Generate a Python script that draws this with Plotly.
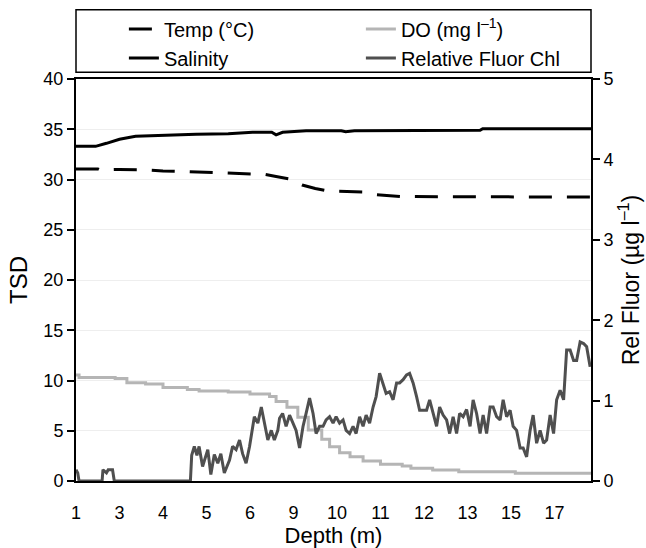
import plotly.graph_objects as go

# x positions are sample index units; ticks label depths
tick_pos = list(range(12))
tick_labels = ["1", "3", "4", "5", "6", "9", "10", "11", "12", "13", "15", "17"]

sal_x = [0, 0.45, 0.7, 1.0, 1.37, 2.0, 2.76, 3.5, 4.06, 4.5, 4.6, 4.75, 5.29, 6.1, 6.2, 6.4, 9.29, 9.35, 11.84]
sal_y = [33.3, 33.3, 33.6, 34.0, 34.3, 34.4, 34.5, 34.55, 34.7, 34.7, 34.45, 34.7, 34.85, 34.85, 34.75, 34.85, 34.9, 35.05, 35.05]

temp_x = [0, 0.5, 0.55, 1.0, 1.6, 2.0, 2.5, 3.0, 3.5, 4.0, 4.35, 4.6, 4.9, 5.2, 5.5, 5.8, 6.1, 6.6, 6.9, 7.5, 11.84]
temp_y = [31.05, 31.05, 30.95, 31.0, 30.95, 30.85, 30.8, 30.7, 30.6, 30.55, 30.5, 30.3, 30.05, 29.45, 29.1, 28.85, 28.8, 28.75, 28.5, 28.3, 28.25]

do_x = [0, 0.07, 0.9, 1.17, 1.6, 2.0, 2.56, 2.83, 3.5, 4.0, 4.45, 4.6, 4.85, 5.1, 5.34, 5.65, 5.83, 6.06, 6.3, 6.6, 7.0, 7.5, 7.7, 8.2, 8.8, 10.1, 11.84]
do_y = [10.55, 10.3, 10.2, 9.78, 9.65, 9.3, 9.1, 8.95, 8.85, 8.66, 8.4, 7.9, 7.33, 6.34, 5.07, 4.15, 3.4, 2.8, 2.42, 2.0, 1.66, 1.5, 1.26, 1.1, 0.93, 0.77, 0.77]

fl_x = [0.00, 0.04, 0.07, 0.60, 0.62, 0.70, 0.74, 0.84, 0.88, 2.63, 2.66, 2.72, 2.78, 2.83,
        2.91, 3.03, 3.10, 3.18, 3.26, 3.33, 3.41, 3.53, 3.60, 3.68, 3.76, 3.83, 3.91, 3.99,
        4.10, 4.18, 4.26, 4.33, 4.41, 4.49, 4.56, 4.64, 4.68, 4.75, 4.83, 4.91, 4.98, 5.06,
        5.14, 5.22, 5.29, 5.37, 5.45, 5.52, 5.60, 5.68, 5.75, 5.83, 5.91, 5.98, 6.06, 6.14,
        6.21, 6.29, 6.37, 6.44, 6.52, 6.60, 6.67, 6.75, 6.83, 6.90, 6.98, 7.06, 7.13, 7.21,
        7.29, 7.37, 7.44, 7.52, 7.60, 7.67, 7.75, 7.83, 7.90, 7.98, 8.06, 8.13, 8.21, 8.29,
        8.36, 8.44, 8.52, 8.59, 8.67, 8.75, 8.82, 8.90, 8.98, 9.06, 9.13, 9.21, 9.29, 9.36,
        9.44, 9.52, 9.59, 9.67, 9.75, 9.82, 9.90, 9.98, 10.05, 10.13, 10.21, 10.28, 10.36,
        10.44, 10.51, 10.59, 10.67, 10.75, 10.82, 10.90, 10.98, 11.05, 11.13, 11.21, 11.28,
        11.36, 11.44, 11.51, 11.59, 11.67, 11.74, 11.82]
fl_y = [0.14, 0.10, 0.00, 0.00, 0.14, 0.10, 0.14, 0.14, 0.00, 0.00, 0.32, 0.43, 0.32, 0.43,
        0.18, 0.39, 0.08, 0.33, 0.22, 0.34, 0.10, 0.26, 0.43, 0.39, 0.51, 0.34, 0.22, 0.43,
        0.80, 0.72, 0.92, 0.72, 0.51, 0.63, 0.51, 0.63, 0.78, 0.84, 0.68, 0.82, 0.72, 0.63,
        0.41, 0.68, 0.84, 1.03, 0.84, 0.59, 0.68, 0.68, 0.76, 0.80, 0.72, 0.80, 0.72, 0.76,
        0.63, 0.59, 0.68, 0.59, 0.80, 0.68, 0.82, 0.72, 0.92, 1.05, 1.34, 1.22, 1.09, 1.11,
        1.01, 1.22, 1.22, 1.26, 1.32, 1.34, 1.22, 1.05, 0.88, 0.88, 0.88, 1.01, 0.84, 0.68,
        0.92, 0.82, 0.76, 0.59, 0.80, 0.59, 0.84, 0.80, 0.89, 0.68, 1.01, 0.84, 0.59, 0.82,
        0.59, 0.92, 0.92, 0.80, 0.76, 1.01, 0.80, 0.88, 0.68, 0.63, 0.41, 0.41, 0.30,
        0.63, 0.82, 0.47, 0.63, 0.47, 0.51, 0.82, 0.59, 1.01, 1.13, 1.01, 1.63,
        1.63, 1.50, 1.50, 1.73, 1.71, 1.67, 1.42]

FONT = "Liberation Sans, Arial, sans-serif"

fig = go.Figure()
fig.add_trace(go.Scatter(x=temp_x, y=temp_y, mode="lines", name="Temp (°C)", legendrank=1,
                         line=dict(color="black", width=3, dash="23px,15px")))
fig.add_trace(go.Scatter(x=sal_x, y=sal_y, mode="lines", name="Salinity", legendrank=3,
                         line=dict(color="black", width=3)))
fig.add_trace(go.Scatter(x=do_x, y=do_y, mode="lines", name="DO (mg l<sup>–1</sup>)", legendrank=2,
                         line=dict(color="#b5b5b5", width=3, shape="hv")))
fig.add_trace(go.Scatter(x=fl_x, y=fl_y, mode="lines", name="Relative Fluor Chl", legendrank=4,
                         yaxis="y2", line=dict(color="#4f4f4f", width=3)))

fig.add_shape(type="rect", xref="paper", yref="paper", x0=0, x1=1, y0=1.017, y1=1.172,
              line=dict(color="black", width=1.5), fillcolor="rgba(0,0,0,0)")

fig.update_layout(
    width=646, height=548,
    margin=dict(l=76, r=55, t=79, b=67, autoexpand=False),
    paper_bgcolor="white", plot_bgcolor="white",
    font=dict(family=FONT, size=18, color="black"),
    showlegend=True,
    legend=dict(orientation="h", x=0.093, xanchor="left", y=1.173, yanchor="top",
                entrywidth=192, entrywidthmode="pixels",
                font=dict(size=20), bgcolor="rgba(0,0,0,0)", traceorder="normal"),
    xaxis=dict(range=[0, 11.84], tickmode="array", tickvals=tick_pos, ticktext=tick_labels,
               showgrid=False, zeroline=False, showline=True, linecolor="black", linewidth=2,
               mirror=True, ticks="", ticklabelstandoff=14, automargin=False,
               title=dict(text="Depth (m)", font=dict(size=22), standoff=8)),
    yaxis=dict(range=[0, 40], dtick=5, showgrid=True, gridcolor="#eeeeee", gridwidth=1,
               zeroline=False, showline=True, linecolor="black", linewidth=2,
               ticks="outside", ticklen=7, tickwidth=1.5, tickcolor="black", automargin=False,
               title=dict(text="TSD", font=dict(size=24), standoff=9)),
    yaxis2=dict(range=[0, 5], dtick=1, overlaying="y", side="right", showgrid=False,
                zeroline=False, showline=True, linecolor="black", linewidth=2,
                ticks="outside", ticklen=7, tickwidth=1.5, tickcolor="black", automargin=False,
                title=dict(text="Rel Fluor (µg l<sup>–1</sup>)", font=dict(size=23), standoff=10)),
)

fig.write_html("out.html", config={"displayModeBar": False},
               post_script="document.body.style.margin='0';document.body.style.overflow='hidden';")
